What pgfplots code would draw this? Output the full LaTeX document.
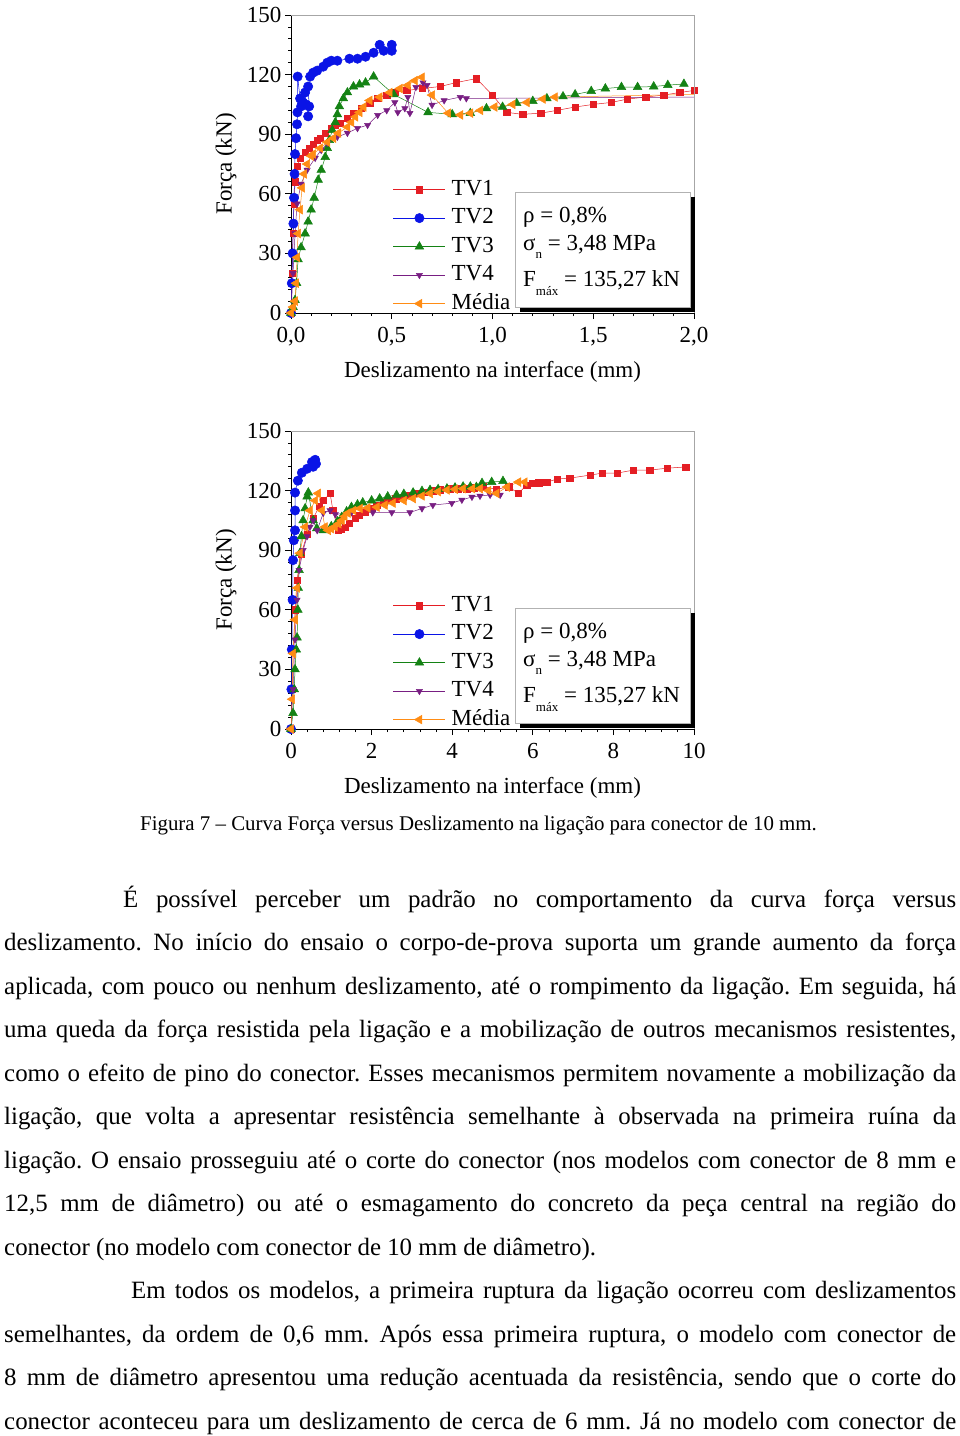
\documentclass[border=0pt]{standalone}
\usepackage{fontspec}
\setmainfont{Liberation Serif}
\usepackage{pgfplots}
\pgfplotsset{compat=1.18}
\frenchspacing
\definecolor{cR}{RGB}{228,30,36}
\definecolor{cB}{RGB}{10,20,230}
\definecolor{cG}{RGB}{20,130,20}
\definecolor{cP}{RGB}{120,30,130}
\definecolor{cO}{RGB}{255,140,20}
\newcommand{\ft}{\fontsize{23}{23}\selectfont}
\pgfplotsset{
 tvone/.style={cR, line width=0.5pt, mark=square*, mark size=3.2pt},
 tvtwo/.style={cB, line width=0.5pt, mark=*, mark size=4.7pt},
 tvthree/.style={cG, line width=0.5pt, mark=triangle*, mark size=5pt},
 tvfour/.style={cP, line width=0.5pt, mark=triangle*, mark size=3.6pt, mark options={rotate=180}},
 media/.style={cO, line width=0.5pt, mark=triangle*, mark size=5pt, mark options={rotate=90}},
 myaxis/.style={
  scale only axis, width=403pt, height=298pt,
  ymin=0, ymax=150, ytick={0,30,...,150}, minor y tick num=4,
  axis x line*=bottom, axis y line*=left,
  tick align=outside,
  major tick length=6pt, minor tick length=3pt,
  tick style={black, line width=0.8pt},
  axis line style={black, line width=1pt},
  ticklabel style={font=\ft},
  xticklabel style={yshift=-5pt},
  /pgf/number format/assume math mode=true,
  label style={font=\ft},
  ylabel={Força (kN)},
  xlabel={Deslizamento na interface (mm)},
  xlabel style={at={(axis description cs:0.5,0)}, anchor=base, yshift=-64pt},
  ylabel style={at={(axis description cs:0,0.5)}, anchor=center, rotate=0},
  legend style={at={(rel axis cs:0.253,0.45)}, anchor=north west, draw=none, fill=none,
    inner sep=0pt, font=\ft, row sep=7.5pt, column sep=6pt,
    nodes={inner sep=0pt, text height=16pt, text depth=5pt}},
  legend cell align=left,
  legend image code/.code={\draw[##1, mark repeat=2, mark phase=2] plot coordinates {(0pt,0pt) (26pt,0pt) (52pt,0pt)};},
 }
}
\newcommand{\infobox}[1]{%
 \fill[black] (520pt,-197pt-#1) rectangle (695pt,-312pt-#1);
 \filldraw[fill=white, draw=gray!60, line width=0.6pt] (515pt,-192pt-#1) rectangle (690pt,-307pt-#1);
 \node[anchor=base west, inner sep=0pt, font=\ft] at (523pt,-222pt-#1) {ρ = 0,8\%};
 \node[anchor=base west, inner sep=0pt, font=\ft] at (523pt,-250pt-#1) {σ\raisebox{-8pt}{\fontsize{13}{13}\selectfont n} = 3,48 MPa};
 \node[anchor=base west, inner sep=0pt, font=\ft] at (523pt,-286pt-#1) {F\raisebox{-9pt}{\fontsize{13}{13}\selectfont máx} = 135,27 kN};
}
\newcommand{\tl}[3]{\node[anchor=base west, inner sep=0pt] at (#1pt,-#2pt) {\fontsize{24.9}{24.9}\selectfont\makebox[\dimexpr 956pt-#1pt\relax][s]{#3}};}
\newcommand{\tn}[3]{\node[anchor=base west, inner sep=0pt] at (#1pt,-#2pt) {\fontsize{24.9}{24.9}\selectfont #3};}
\begin{document}
\begin{tikzpicture}
\path[use as bounding box] (0pt,0pt) rectangle (960pt,-1436pt);
% ---------------- top chart
\begin{axis}[myaxis, name=ta, at={(291pt,-313pt)}, anchor=south west,
  xmin=0, xmax=2, xtick={0,0.5,1,1.5,2}, xticklabels={{0,0},{0,5},{1,0},{1,5},{2,0}}, minor x tick num=4,
  ylabel style={at={(axis description cs:-0.161,0.5)}}]
\addplot[tvone] coordinates {(0,0)(0.005,20)(0.01,40)(0.015,55)(0.02,66)(0.03,74)(0.045,78)(0.07,81)(0.09,83)(0.11,85)(0.13,87)(0.144,88)(0.17,90.6)(0.2,93)(0.22,94.5)(0.243,95.6)(0.28,98)(0.31,100.6)(0.35,103)(0.39,105.6)(0.43,108)(0.475,109.7)(0.515,111)(0.575,112)(0.65,113)(0.74,114)(0.82,116)(0.92,118)(1.0,109.7)(1.07,101)(1.15,100)(1.24,100.6)(1.32,102)(1.41,103.7)(1.5,105)(1.59,106)(1.67,107.7)(1.76,108.7)(1.85,109.7)(1.93,111)(2.0,112)};
\addlegendentry{TV1}
\addplot[tvtwo] coordinates {(0,0)(0.004,15)(0.008,30)(0.012,45)(0.015,58)(0.018,70)(0.02,80)(0.025,88)(0.03,95)(0.032,101)(0.033,119)(0.045,108)(0.05,104)(0.06,106)(0.07,111)(0.075,105)(0.085,99)(0.09,104)(0.085,114)(0.095,119)(0.11,121)(0.13,122)(0.16,124)(0.18,126)(0.2,127)(0.23,127)(0.29,128)(0.33,128)(0.37,129)(0.41,131)(0.44,135)(0.46,132)(0.5,135)(0.5,132)};
\addlegendentry{TV2}
\addplot[tvthree] coordinates {(0,0)(0.01,3)(0.02,6.5)(0.028,15)(0.035,27)(0.05,33)(0.07,40)(0.085,46)(0.1,52)(0.115,58)(0.135,67)(0.15,72)(0.17,78.5)(0.18,83)(0.19,87)(0.205,92)(0.22,96)(0.23,100)(0.24,104)(0.26,108)(0.28,111)(0.31,114)(0.34,115)(0.37,116)(0.41,119)(0.51,110)(0.68,101)(0.8,100)(0.89,100.6)(0.97,103)(1.05,103.7)(1.12,105.6)(1.2,106.7)(1.27,108)(1.35,109)(1.41,110)(1.49,111.7)(1.56,113)(1.64,113.7)(1.72,113.7)(1.8,114)(1.87,114.7)(1.95,115.3)};
\addlegendentry{TV3}
\addplot[tvfour] coordinates {(0,0)(0.01,20)(0.02,40)(0.03,55)(0.05,65)(0.08,72)(0.12,78)(0.15,82)(0.18,85.5)(0.23,88.6)(0.28,90.6)(0.33,93)(0.38,94.6)(0.43,99.6)(0.475,102)(0.515,106)(0.53,101)(0.565,103)(0.58,108.7)(0.59,100.6)(0.62,113.7)(0.655,116)(0.675,114.7)(0.7,104.7)(0.76,107)(0.84,108.7)(0.87,108)};
\addlegendentry{TV4}
\addplot[media] coordinates {(0,0)(0.01,3)(0.02,6)(0.025,15)(0.03,28)(0.035,40)(0.045,52)(0.055,63)(0.065,70)(0.08,75)(0.1,79)(0.11,80)(0.145,83)(0.18,86)(0.21,88)(0.235,90.6)(0.28,93.6)(0.3,96)(0.32,98.7)(0.34,101)(0.36,103.7)(0.39,107)(0.44,108.7)(0.49,111)(0.54,113)(0.58,114.7)(0.615,117)(0.65,118.7)(0.7,109.7)(0.78,100.6)(0.84,99.7)(0.89,100.6)(0.94,102)(1.01,103.7)(1.1,105)(1.17,106)(1.25,107.7)(1.31,108.7)};
\addlegendentry{Média}
\addplot[cP, line width=0.5pt, forget plot] coordinates {(0.87,108)(2.0,108.7)};
\addplot[cO, line width=0.5pt, forget plot] coordinates {(1.31,108.7)(2.0,110)};
\end{axis}
\draw[gray!70, line width=0.8pt] (ta.north west) -- (ta.north east) -- (ta.south east);
\infobox{0pt}
% ---------------- bottom chart
\begin{axis}[myaxis, name=ba, at={(291pt,-729pt)}, anchor=south west,
  xmin=0, xmax=10, xtick={0,2,...,10}, minor x tick num=4,
  ylabel style={at={(axis description cs:-0.161,0.5)}}]
\addplot[tvone] coordinates {(0,0)(0.03,20)(0.06,40)(0.1,60)(0.15,75)(0.25,88)(0.4,98)(0.55,106)(0.7,112)(0.8,115)(0.97,118.6)(1.04,110)(1.17,100)(1.25,100.5)(1.34,101.7)(1.45,103.5)(1.59,106)(1.7,107.5)(1.84,109)(2.0,111)(2.13,112.7)(2.3,114)(2.46,115)(2.6,116)(2.78,116.8)(2.95,117.8)(3.12,118.6)(3.3,119.3)(3.52,120)(3.7,120.5)(3.95,121)(4.15,121)(4.36,121)(4.55,121.5)(4.77,122)(5.1,120.6)(5.4,122)(5.64,118.6)(5.85,122.8)(6.0,123.8)(6.15,124)(6.35,124.3)(6.6,125.8)(6.92,126.3)(7.42,127.8)(7.72,128.8)(8.09,128.8)(8.49,130.3)(8.9,130.3)(9.33,131.3)(9.8,131.9)};
\addlegendentry{TV1}
\addplot[tvtwo] coordinates {(0,0)(0.01,20)(0.02,40)(0.04,65)(0.05,85)(0.07,95)(0.1,100)(0.1,110)(0.1,119)(0.17,125)(0.27,129)(0.4,131)(0.52,134.4)(0.6,135.5)(0.62,133.5)(0.55,132)};
\addlegendentry{TV2}
\addplot[tvthree] coordinates {(0,0)(0.05,8)(0.08,20)(0.1,30)(0.13,40)(0.15,46)(0.17,60)(0.18,71)(0.2,80)(0.22,88.5)(0.26,97)(0.3,105)(0.35,111)(0.4,117)(0.43,119)(0.55,105)(0.64,101)(0.8,100)(1.0,102)(1.15,104.5)(1.26,106.7)(1.38,109.5)(1.5,111.7)(1.65,113)(1.78,114)(2.0,115)(2.2,116)(2.4,117)(2.62,117.8)(2.8,118.3)(3.03,119)(3.25,119.8)(3.45,120.3)(3.65,120.7)(3.87,121)(4.07,121.5)(4.27,122)(4.45,122)(4.6,121.8)(4.74,123.8)(4.98,124.3)(5.26,124.8)};
\addlegendentry{TV3}
\addplot[tvfour] coordinates {(0,0)(0.05,20)(0.1,45)(0.15,65)(0.2,80)(0.3,90)(0.4,97)(0.47,101.7)(0.55,105)(0.65,100)(0.8,108.7)(0.97,110)(1.1,108)(1.5,109)(2.03,109)(2.5,109)(2.95,109)(3.25,111)(3.52,112.7)(3.99,113.7)(4.24,115.3)(4.49,116.8)(4.69,117.3)(4.94,117.8)(5.19,117.8)};
\addlegendentry{TV4}
\addplot[media] coordinates {(0,0)(0.03,15)(0.05,38)(0.1,55)(0.15,71)(0.22,88.5)(0.35,101.7)(0.47,110)(0.6,115)(0.67,118.6)(0.77,110)(0.84,101.7)(0.92,100)(1.0,100.8)(1.09,101.7)(1.18,103.3)(1.26,105)(1.33,107)(1.41,108.7)(1.55,110)(1.71,111)(1.9,111.3)(2.13,111.7)(2.33,112.7)(2.53,113.7)(2.8,115)(3.03,116)(3.25,117.3)(3.45,118.6)(3.65,119.5)(3.87,120.3)(4.07,120.7)(4.27,121)(4.5,121)(4.69,121)(4.9,120)(5.1,118.6)(5.36,121.8)(5.64,124.3)(5.8,124.3)};
\addlegendentry{Média}
\end{axis}
\draw[gray!70, line width=0.8pt] (ba.north west) -- (ba.north east) -- (ba.south east);
\infobox{416pt}
% ---------------- caption
\node[anchor=base, inner sep=0pt] at (478.5pt,-830pt) {\fontsize{20.9}{20.9}\selectfont Figura 7 – Curva Força versus Deslizamento na ligação para conector de 10 mm.};
% ---------------- body text
\tl{123}{907}{É possível perceber um padrão no comportamento da curva força versus}
\tl{4}{950.5}{deslizamento. No início do ensaio o corpo-de-prova suporta um grande aumento da força}
\tl{4}{994}{aplicada, com pouco ou nenhum deslizamento, até o rompimento da ligação. Em seguida, há}
\tl{4}{1037.5}{uma queda da força resistida pela ligação e a mobilização de outros mecanismos resistentes,}
\tl{4}{1081}{como o efeito de pino do conector. Esses mecanismos permitem novamente a mobilização da}
\tl{4}{1124.5}{ligação, que volta a apresentar resistência semelhante à observada na primeira ruína da}
\tl{4}{1168}{ligação. O ensaio prosseguiu até o corte do conector (nos modelos com conector de 8 mm e}
\tl{4}{1211.5}{12,5 mm de diâmetro) ou até o esmagamento do concreto da peça central na região do}
\tn{4}{1255}{conector (no modelo com conector de 10 mm de diâmetro).}
\tl{131}{1298.5}{Em todos os modelos, a primeira ruptura da ligação ocorreu com deslizamentos}
\tl{4}{1342}{semelhantes, da ordem de 0,6 mm. Após essa primeira ruptura, o modelo com conector de}
\tl{4}{1385.5}{8 mm de diâmetro apresentou uma redução acentuada da resistência, sendo que o corte do}
\tl{4}{1429}{conector aconteceu para um deslizamento de cerca de 6 mm. Já no modelo com conector de}
\end{tikzpicture}
\end{document}
